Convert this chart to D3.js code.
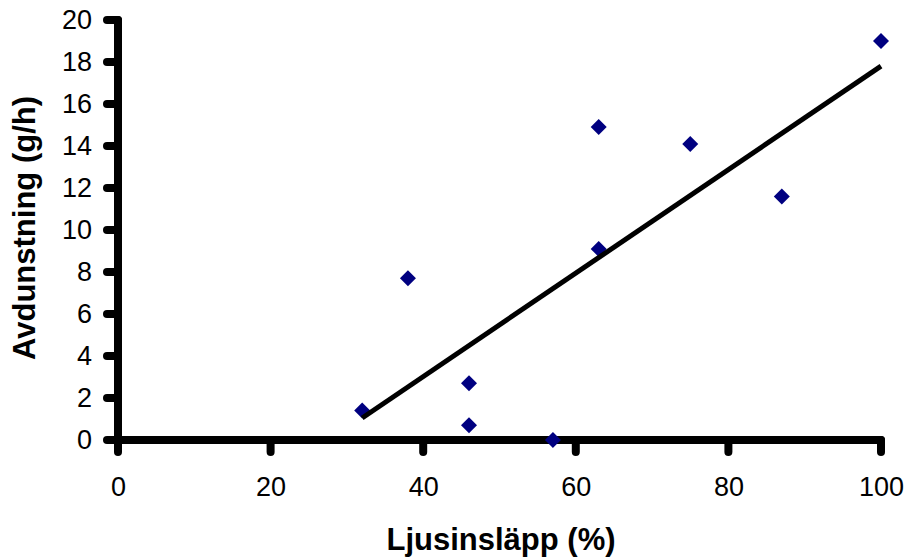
<!DOCTYPE html>
<html>
<head>
<meta charset="utf-8">
<script src="https://cdn.jsdelivr.net/npm/d3@7"></script>
<style>
  html, body { margin: 0; padding: 0; background: #fff; }
  svg { display: block; }
  text { font-family: "Liberation Sans", Arial, sans-serif; }
</style>
</head>
<body>
<svg id="chart" width="911" height="560"></svg>
<script>
// Data
const xValues = [32, 38, 46, 46, 57, 63, 63, 75, 87, 100];
const yValues = [1.4, 7.7, 2.7, 0.7, 0.0, 14.9, 9.1, 14.1, 11.6, 19.0];
const xTicks = [0, 20, 40, 60, 80, 100];
const yTicks = [0, 2, 4, 6, 8, 10, 12, 14, 16, 18, 20];
const xTitle = "Ljusinsläpp (%)";
const yTitle = "Avdunstning (g/h)";

const points = xValues.map((x, i) => ({ x, y: yValues[i] }));

const svg = d3.select("#chart");
const x = d3.scaleLinear().domain([0, 100]).range([118, 881]);
const y = d3.scaleLinear().domain([0, 20]).range([440, 20]);

const AXIS_W = 8;

// Y axis (labels via d3.axis)
const gy = svg.append("g").attr("transform", `translate(${x(0)},0)`)
  .call(d3.axisLeft(y).tickValues(yTicks).tickFormat(d3.format("d"))
    .tickSize(11).tickSizeOuter(0).tickPadding(15));
// X axis
const gx = svg.append("g").attr("transform", `translate(0,${y(0)})`)
  .call(d3.axisBottom(x).tickValues(xTicks).tickFormat(d3.format("d"))
    .tickSize(12).tickSizeOuter(0).tickPadding(25));

[gx, gy].forEach(g => {
  g.selectAll(".domain, .tick line").remove();
  g.selectAll(".tick text").style("fill", "#000")
    .style("font-size", "27px").style("font-family", "'Liberation Sans', Arial, sans-serif");
});

// Thick axis lines and ticks (drawn as filled shapes through the scales)
const lines = svg.append("g").attr("fill", "#000");
const h = AXIS_W / 2;
lines.append("rect")
  .attr("x", x(0) - h).attr("y", y(20) - h).attr("width", AXIS_W).attr("height", y(0) - y(20) + AXIS_W).attr("rx", h);
lines.append("rect")
  .attr("x", x(0) - h).attr("y", y(0) - h).attr("width", x(100) - x(0) + AXIS_W).attr("height", AXIS_W).attr("rx", h);
lines.selectAll(".yt").data(yTicks).join("rect").attr("class", "yt")
  .attr("x", x(0) - 11 - h).attr("y", d => y(d) - h).attr("width", 11 + AXIS_W).attr("height", AXIS_W).attr("rx", h);
lines.selectAll(".xt").data(xTicks).join("rect").attr("class", "xt")
  .attr("x", d => x(d) - h).attr("y", y(0) - h).attr("width", AXIS_W).attr("height", 12 + AXIS_W).attr("rx", h);

// Markers (diamonds)
svg.append("g").selectAll("path").data(points).join("path")
  .attr("d", d3.symbol().type(d3.symbolSquare).size(128))
  .attr("transform", d => `translate(${x(d.x)},${y(d.y)}) rotate(45)`)
  .style("fill", "#000080");

// Linear trendline (least squares of the data)
const mx = d3.mean(xValues), my = d3.mean(yValues);
const sxy = d3.sum(points, p => (p.x - mx) * (p.y - my));
const sxx = d3.sum(points, p => (p.x - mx) ** 2);
const slope = sxy / sxx, icpt = my - slope * mx;
const [x0, x1] = d3.extent(xValues);
svg.append("line")
  .attr("x1", x(x0)).attr("y1", y(icpt + slope * x0))
  .attr("x2", x(x1)).attr("y2", y(icpt + slope * x1))
  .attr("stroke", "#000").attr("stroke-width", 5);

// Axis titles
svg.append("text")
  .attr("x", 501).attr("y", 550)
  .attr("text-anchor", "middle")
  .style("font-size", "31px").style("font-weight", "bold")
  .text(xTitle);

svg.append("text")
  .attr("transform", "translate(35,228) rotate(-90)")
  .attr("text-anchor", "middle")
  .style("font-size", "31px").style("font-weight", "bold")
  .text(yTitle);
</script>
</body>
</html>
